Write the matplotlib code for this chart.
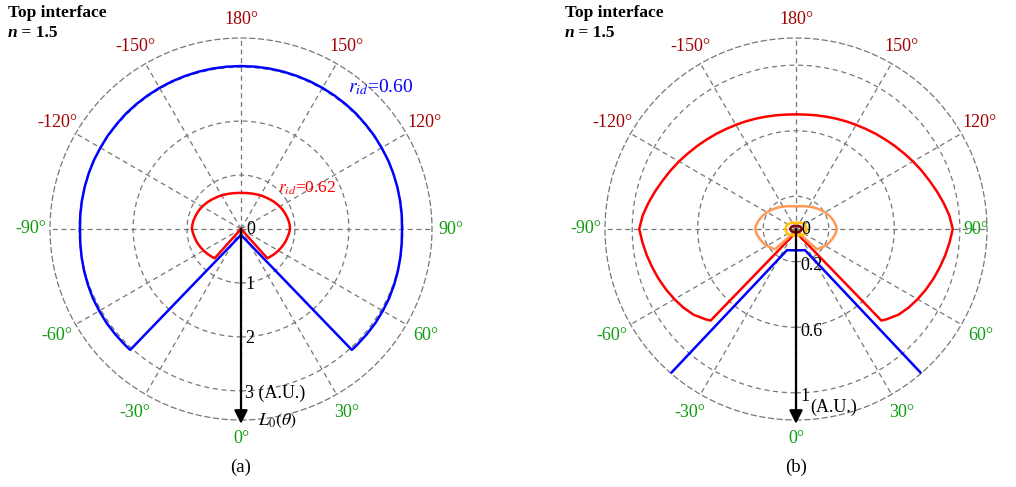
import numpy as np
import matplotlib
matplotlib.use('Agg')
import matplotlib.pyplot as plt

plt.rcParams['font.family'] = ['Liberation Serif', 'DejaVu Serif']
plt.rcParams['mathtext.fontset'] = 'stix'

# angular ticks (0 deg at the bottom, counter-clockwise)
theta_ticks = [0, 30, 60, 90, 120, 150, 180, 210, 240, 270, 300, 330]
theta_labels = ['0°', '30°', '60°', '90°', '120°', '150°', '180°',
                '-150°', '-120°', '-90°', '-60°', '-30°']
green, dred = '#109a10', '#a00000'
theta_colors = [green, green, green, green, dred, dred, dred,
                dred, dred, green, green, green]

# ---- panel (a) data, L0(theta) in A.U., angles in degrees ----
a_blue_t = [0, 42.5] + list(range(45, 320, 5)) + [317.5, 360]
a_blue_r = [0.11, 3.04,
            3.04, 3.04, 3.04, 3.035, 3.03, 3.02, 3.01, 3.0, 2.99, 2.985,
            2.99, 2.995, 3.0, 3.005, 3.01, 3.01, 3.015, 3.015, 3.02, 3.02,
            3.02, 3.02, 3.02, 3.02, 3.02, 3.02, 3.02, 3.02,
            3.02, 3.02, 3.02, 3.02, 3.02, 3.02, 3.02, 3.02, 3.02,
            3.015, 3.015, 3.01, 3.01, 3.005, 3.0, 2.995, 2.99, 2.985,
            2.99, 3.0, 3.01, 3.02, 3.03, 3.035, 3.04, 3.04, 3.04,
            3.04, 0.11]
a_red_t = [0, 42] + list(range(45, 320, 5)) + [318, 360]
a_red_r = [0.0, 0.73,
           0.74, 0.76, 0.78, 0.80, 0.82, 0.84, 0.86, 0.875, 0.893, 0.91,
           0.905, 0.895, 0.88, 0.865, 0.85, 0.83, 0.81, 0.79, 0.77, 0.75,
           0.735, 0.72, 0.705, 0.693, 0.683, 0.676, 0.671, 0.67,
           0.671, 0.676, 0.683, 0.693, 0.705, 0.72, 0.735, 0.75, 0.77, 0.79,
           0.81, 0.83, 0.85, 0.865, 0.88, 0.895, 0.905, 0.91,
           0.893, 0.875, 0.86, 0.84, 0.82, 0.80, 0.78, 0.76, 0.74,
           0.73, 0.0]
a_rticks = [1, 2, 3]
a_rlabels = ['1', '2', '3 (A.U.)']

# ---- panel (b) data ----
b_blue_t = [-41, -23, -12, 0, 12, 23, 41]
b_blue_r = [1.19, 0.14, 0.133, 0.13, 0.133, 0.14, 1.19]
b_red_t = [0, 43] + list(range(45, 320, 5)) + [317, 360]
b_red_r = [0.02, 0.764,
           0.78, 0.815, 0.838, 0.857, 0.875, 0.892, 0.908, 0.925, 0.941, 0.957,
           0.94, 0.915, 0.89, 0.866, 0.845, 0.825, 0.805, 0.788, 0.772, 0.758,
           0.745, 0.734, 0.725, 0.717, 0.71, 0.705, 0.701, 0.70,
           0.701, 0.705, 0.71, 0.717, 0.725, 0.734, 0.745, 0.758, 0.772, 0.788,
           0.805, 0.825, 0.845, 0.866, 0.89, 0.915, 0.94, 0.957,
           0.941, 0.925, 0.908, 0.892, 0.875, 0.857, 0.838, 0.815, 0.78,
           0.764, 0.02]
b_orange_t = [0, 46] + list(range(50, 315, 5)) + [314, 360]
b_orange_r = [0.01, 0.178,
              0.185, 0.195, 0.205, 0.215, 0.222, 0.23, 0.238, 0.244, 0.25,
              0.245, 0.238, 0.23, 0.222, 0.213, 0.204, 0.195, 0.186, 0.178,
              0.171, 0.164, 0.158, 0.152, 0.148, 0.144, 0.141, 0.139, 0.138,
              0.139, 0.141, 0.144, 0.148, 0.152, 0.158, 0.164, 0.171, 0.178,
              0.186, 0.195, 0.204, 0.213, 0.222, 0.23, 0.238, 0.245, 0.25,
              0.244, 0.238, 0.23, 0.222, 0.215, 0.205, 0.195, 0.185,
              0.178, 0.01]
b_gold_t = [0, 30, 60, 90, 120, 150, 180, 210, 240, 270, 300, 330, 360]
b_gold_r = [0.037, 0.045, 0.06, 0.067, 0.06, 0.045, 0.037, 0.045, 0.06, 0.067,
            0.06, 0.045, 0.037]
b_dred_t = [0, 30, 60, 90, 120, 150, 180, 210, 240, 270, 300, 330, 360]
b_dred_r = [0.018, 0.022, 0.03, 0.037, 0.03, 0.022, 0.018, 0.022, 0.03, 0.037,
            0.03, 0.022, 0.018]
b_rticks = [0.2, 0.6, 1.0]
b_rlabels = ['0.2', '0.6', '1']

W, H = 1016, 487
fig = plt.figure(figsize=(W / 100, H / 100), dpi=100)


def polar_ax(cx, cy, rpx, rmax, rticks, lab_frac):
    ax = fig.add_axes([(cx - rpx) / W, (H - cy - rpx) / H, 2 * rpx / W, 2 * rpx / H],
                      projection='polar')
    ax.set_theta_zero_location('S')
    ax.set_theta_direction(1)
    ax.set_ylim(0, rmax)
    ax.set_yticks(rticks)
    ax.set_yticklabels([])
    ax.set_xticks(np.deg2rad(theta_ticks))
    ax.set_xticklabels([])
    # angle labels, coloured, set just outside the circle
    for t, s, c, f in zip(theta_ticks, theta_labels, theta_colors, lab_frac):
        ax.text(np.deg2rad(t), rmax * f, s, color=c, fontsize=13,
                ha='center', va='center', clip_on=False)
    ax.grid(True, color='#777777', ls=(0, (4, 3)), lw=0.9)
    sp = ax.spines['polar']
    sp.set_linestyle((0, (4, 3)))
    sp.set_color('#777777')
    sp.set_linewidth(0.9)
    ax.patch.set_alpha(0)
    return ax


def radial_labels(ax, rticks, labels, dy):
    ax.annotate('0', xy=(0, 0), xytext=(5, 0), textcoords='offset pixels',
                ha='left', va='center', fontsize=13, zorder=6)
    for r, s in zip(rticks, labels):
        ax.annotate(s, xy=(0, r), xytext=(4, dy), textcoords='offset pixels',
                    ha='left', va='center', fontsize=13, zorder=6)


def arrow(ax, rmax):
    ax.annotate('', xy=(0, rmax * 1.02), xytext=(0, 0),
                arrowprops=dict(arrowstyle='-|>', color='black', lw=1.6,
                                mutation_scale=20, shrinkA=0, shrinkB=0),
                annotation_clip=False, zorder=5)


# ---- (a) ----
rmax_a = 3.54
axa = polar_ax(241, 229, 191, rmax_a, a_rticks,
               [1.095, 1.11, 1.115, 1.1, 1.11, 1.105, 1.095,
                1.105, 1.11, 1.1, 1.115, 1.11])
axa.plot(np.deg2rad(a_blue_t), a_blue_r, color='#0000ff', lw=1.8, zorder=3)
axa.plot(np.deg2rad(a_red_t), a_red_r, color='#ff0000', lw=1.8, zorder=4)
arrow(axa, rmax_a)
radial_labels(axa, a_rticks, a_rlabels, dy=-2)
axa.annotate(r'$L_0(\theta)$', xy=(0, rmax_a), xytext=(17, -1), textcoords='offset pixels',
             ha='left', va='center', fontsize=13, annotation_clip=False)
axa.text(np.deg2rad(143), 3.3, r'$r_{id}$=0.60', color='#0000ff', fontsize=14,
         ha='left', va='center')
axa.text(np.deg2rad(138), 1.02, r'$r_{id}$=0.62', color='#ff0000', fontsize=12.5,
         ha='left', va='center')

# ---- (b) ----
rmax_b = 1.166
# the 90° label of (b) sits closer to the circle (right edge of the figure)
axb = polar_ax(796, 229, 191, rmax_b, b_rticks,
               [1.095, 1.11, 1.115, 0.943, 1.11, 1.105, 1.095,
                1.105, 1.11, 1.1, 1.115, 1.11])
axb.plot(np.deg2rad(b_blue_t), b_blue_r, color='#0000ff', lw=1.8, zorder=3)
axb.plot(np.deg2rad(b_red_t), b_red_r, color='#ff0000', lw=1.8, zorder=4)
axb.plot(np.deg2rad(b_orange_t), b_orange_r, color='#ff9955', lw=1.8, zorder=4)
axb.plot(np.deg2rad(b_gold_t), b_gold_r, color='#ffc000', lw=1.8, zorder=4)
axb.plot(np.deg2rad(b_dred_t), b_dred_r, color='#8b0000', lw=1.8, zorder=4)
arrow(axb, rmax_b)
radial_labels(axb, b_rticks, b_rlabels, dy=-4)
axb.annotate('(A.U.)', xy=(0, 1.0), xytext=(14, -15), textcoords='offset pixels',
             ha='left', va='center', fontsize=13, annotation_clip=False)

# headers and panel letters
for x0 in (8, 565):
    fig.text(x0 / W, 1 - 13 / H, 'Top interface', fontsize=12.5, fontweight='bold',
             ha='left', va='center')
    fig.text(x0 / W, 1 - 33 / H, 'n', fontsize=12.5, fontweight='bold',
             style='italic', ha='left', va='center')
    fig.text((x0 + 9) / W, 1 - 33 / H, ' = 1.5', fontsize=12.5, fontweight='bold',
             ha='left', va='center')
fig.text(241 / W, 1 - 467 / H, '(a)', fontsize=13.5, ha='center', va='center')
fig.text(796 / W, 1 - 467 / H, '(b)', fontsize=13.5, ha='center', va='center')

fig.savefig('out.png', dpi=100, facecolor='white')
